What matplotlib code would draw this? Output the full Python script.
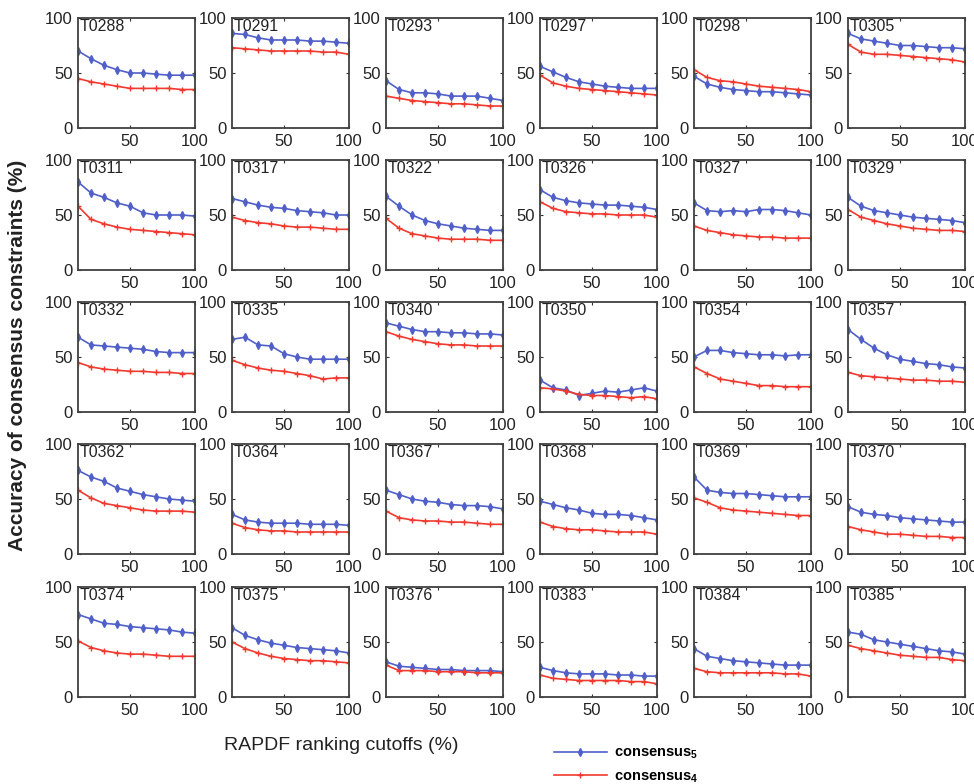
import numpy as np
import matplotlib
matplotlib.use("Agg")
import matplotlib.pyplot as plt

plt.rcParams['font.family'] = ['Liberation Sans', 'DejaVu Sans']
plt.rcParams['mathtext.fontset'] = 'custom'
plt.rcParams['mathtext.bf'] = 'Liberation Sans:bold'
plt.rcParams['mathtext.rm'] = 'Liberation Sans'

# ranking cutoffs (%)
cutoffs = [10, 20, 30, 40, 50, 60, 70, 80, 90, 100]

targets = ['T0288', 'T0291', 'T0293', 'T0297', 'T0298', 'T0305',
           'T0311', 'T0317', 'T0322', 'T0326', 'T0327', 'T0329',
           'T0332', 'T0335', 'T0340', 'T0350', 'T0354', 'T0357',
           'T0362', 'T0364', 'T0367', 'T0368', 'T0369', 'T0370',
           'T0374', 'T0375', 'T0376', 'T0383', 'T0384', 'T0385']

# consensus_5 accuracy (blue)
cons5 = [
    [70, 63, 57, 53, 50, 50, 49, 48, 48, 48],
    [86, 85, 82, 80, 80, 80, 79, 79, 78, 77],
    [43, 35, 32, 32, 31, 29, 29, 29, 27, 25],
    [56, 51, 46, 42, 40, 38, 37, 36, 36, 36],
    [47, 40, 37, 35, 34, 33, 33, 32, 31, 30],
    [86, 81, 79, 77, 75, 75, 74, 73, 73, 72],
    [80, 70, 66, 61, 58, 52, 50, 50, 50, 49],
    [65, 62, 59, 57, 56, 54, 53, 52, 50, 50],
    [67, 58, 50, 45, 42, 40, 38, 37, 36, 36],
    [73, 66, 63, 61, 60, 59, 59, 58, 57, 55],
    [61, 54, 53, 54, 53, 55, 55, 54, 52, 50],
    [66, 58, 54, 52, 50, 48, 47, 46, 45, 43],
    [68, 61, 60, 59, 58, 57, 55, 54, 54, 54],
    [66, 68, 61, 60, 53, 50, 48, 48, 48, 48],
    [81, 78, 75, 73, 73, 72, 72, 71, 71, 70],
    [29, 22, 20, 15, 17, 19, 18, 20, 22, 19],
    [50, 56, 56, 54, 53, 52, 52, 51, 52, 52],
    [75, 66, 58, 52, 48, 46, 44, 43, 41, 40],
    [76, 70, 66, 60, 57, 54, 52, 50, 49, 48],
    [36, 31, 29, 28, 28, 28, 27, 27, 27, 26],
    [58, 54, 50, 48, 47, 45, 44, 44, 43, 41],
    [48, 45, 42, 40, 37, 36, 36, 35, 33, 31],
    [70, 58, 56, 55, 55, 54, 53, 52, 52, 52],
    [43, 38, 36, 35, 33, 32, 31, 30, 29, 29],
    [75, 71, 67, 66, 64, 63, 62, 61, 59, 58],
    [63, 56, 52, 49, 47, 45, 44, 43, 42, 40],
    [32, 28, 27, 26, 25, 25, 24, 24, 24, 23],
    [27, 24, 22, 21, 21, 21, 20, 20, 19, 19],
    [44, 37, 35, 33, 32, 31, 30, 29, 29, 29],
    [59, 57, 52, 50, 48, 46, 44, 42, 41, 39],
]

# consensus_4 accuracy (red)
cons4 = [
    [45, 42, 40, 38, 36, 36, 36, 36, 35, 35],
    [73, 72, 71, 70, 70, 70, 70, 69, 69, 67],
    [29, 27, 25, 24, 23, 22, 22, 21, 20, 20],
    [48, 41, 38, 36, 35, 34, 33, 32, 31, 30],
    [53, 46, 43, 42, 40, 38, 37, 36, 35, 33],
    [76, 69, 67, 67, 66, 65, 64, 63, 62, 60],
    [58, 46, 42, 39, 37, 36, 35, 34, 33, 32],
    [48, 45, 43, 42, 40, 39, 39, 38, 37, 37],
    [47, 38, 33, 31, 29, 28, 28, 28, 27, 27],
    [62, 56, 53, 52, 51, 51, 50, 50, 50, 48],
    [40, 36, 34, 32, 31, 30, 30, 29, 29, 29],
    [55, 48, 45, 42, 40, 38, 37, 36, 36, 35],
    [45, 41, 39, 38, 37, 37, 36, 36, 35, 35],
    [47, 43, 40, 38, 37, 35, 33, 30, 31, 31],
    [73, 69, 66, 64, 62, 61, 61, 60, 60, 60],
    [22, 21, 19, 16, 15, 15, 14, 13, 14, 12],
    [41, 35, 30, 28, 26, 24, 24, 23, 23, 23],
    [36, 33, 32, 31, 30, 29, 29, 28, 28, 27],
    [58, 51, 46, 44, 42, 40, 39, 39, 39, 38],
    [28, 24, 22, 21, 21, 20, 20, 20, 20, 20],
    [39, 33, 31, 30, 30, 29, 29, 28, 27, 27],
    [29, 25, 23, 22, 22, 21, 20, 20, 20, 18],
    [51, 47, 42, 40, 39, 38, 37, 36, 35, 35],
    [25, 22, 20, 18, 18, 17, 16, 16, 15, 15],
    [51, 45, 42, 40, 39, 39, 38, 37, 37, 37],
    [50, 44, 40, 37, 35, 34, 33, 33, 32, 31],
    [29, 24, 24, 24, 23, 23, 23, 22, 22, 22],
    [20, 17, 16, 15, 15, 15, 15, 14, 14, 12],
    [26, 23, 22, 22, 22, 22, 22, 21, 21, 19],
    [47, 44, 42, 40, 38, 37, 36, 36, 34, 33],
]

W, H = 974, 784
fig = plt.figure(figsize=(W / 100, H / 100), dpi=100)

col_left = [78, 232, 386, 540, 694, 848]
row_top = [18, 160, 302, 444, 587]
aw, ah = 117, 110

blue = '#5060c8'
red = '#f03a30'

for i, name in enumerate(targets):
    r, c = divmod(i, 6)
    ax = fig.add_axes([col_left[c] / W, 1 - (row_top[r] + ah) / H, aw / W, ah / H])
    l5, = ax.plot(cutoffs, cons5[i], color=blue, lw=1.2, marker='d', ms=4,
                  mfc=blue, mec=blue)
    l4, = ax.plot(cutoffs, cons4[i], color=red, lw=1.2, marker='+', ms=4, mew=1)
    ax.set_xlim(10, 100)
    ax.set_ylim(0, 100)
    ax.set_xticks([50, 100])
    ax.set_yticks([0, 50, 100])
    ax.tick_params(direction='in', length=2, labelsize=12, pad=4, color='#333333',
                   labelcolor='#222222', top=True, right=True)
    for sp in ax.spines.values():
        sp.set_color('#404040')
        sp.set_linewidth(1.3)
    ax.text(0.01, 0.995, name, transform=ax.transAxes, ha='left', va='top',
            fontsize=11.5, color='#222222')

fig.text(18 / W, 1 - 355 / H, 'Accuracy of consensus constraints (%)', rotation=90,
         ha='center', va='center', fontsize=15, fontweight='bold', color='#222222')
fig.text(341 / W, 1 - 746 / H, 'RAPDF ranking cutoffs (%)', ha='center', va='center',
         fontsize=14, color='#222222')

fig.legend([l5, l4], [r'$\mathbf{consensus_5}$', r'$\mathbf{consensus_4}$'],
           loc='upper left', bbox_to_anchor=(554 / W, 1 - 746 / H), frameon=False,
           handlelength=3.6, fontsize=10.5, labelspacing=0.55, handletextpad=0.5,
           borderaxespad=0, borderpad=0)

fig.savefig('out.png', dpi=100)
